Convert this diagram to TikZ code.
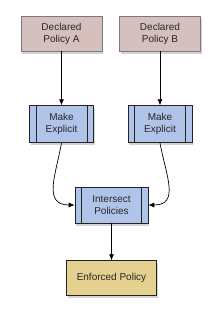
\documentclass[tikz,border=0pt]{standalone}
\usepackage{fontspec}
\setmainfont{Liberation Sans}
\usetikzlibrary{arrows.meta,positioning,shadows}
\definecolor{rose}{HTML}{D6C0BE}
\definecolor{steel}{HTML}{B0C4EA}
\definecolor{sand}{HTML}{E4D08F}
\definecolor{edge}{HTML}{222222}

\begin{document}
\begin{tikzpicture}[x=1pt,y=1pt,font=\fontsize{10}{12}\selectfont,text=black!85,
 shade/.style={drop shadow={shadow xshift=1pt,shadow yshift=-2.5pt,opacity=.35}},
 declared/.style={shade,draw=edge!60,line width=.6pt,fill=rose,minimum width=81pt,minimum height=35pt,align=center,inner sep=0pt},
 process/.style={shade,draw=edge,line width=.6pt,fill=steel,minimum width=64pt,minimum height=37pt,align=center,inner sep=0pt,
  path picture={\draw[edge,line width=.6pt] ([xshift=6.5pt]path picture bounding box.north west) -- ([xshift=6.5pt]path picture bounding box.south west)
   ([xshift=-6.5pt]path picture bounding box.north east) -- ([xshift=-6.5pt]path picture bounding box.south east);}},
 result/.style={shade,draw=edge,line width=.6pt,fill=sand,minimum width=90pt,minimum height=35pt,align=center,inner sep=0pt},
 flow/.style={-{Latex[length=6pt,width=5pt]},line width=.7pt}]
 \useasboundingbox (0,0) rectangle (221,-319);
 \node[declared] (polA) at (61.5,-33.5) {Declared\\Policy A};
 \node[declared] (polB) at (160,-33.5) {Declared\\Policy B};
 \node[process,below=54pt of polA] (mkA) {Make\\Explicit};
 \node[process,below=54pt of polB] (mkB) {Make\\Explicit};
 \node[process,minimum width=73pt,minimum height=36pt] (isect) at (111.5,-205) {Intersect\\Policies};
 \node[result,below=37pt of isect] (enf) {Enforced Policy};
 \draw[flow] (polA) -- (mkA);
 \draw[flow] (polB) -- (mkB);
 \draw[flow] (mkA.south) to[out=-100,in=180,looseness=1.3] (isect.west);
 \draw[flow] (mkB.south) to[out=-80,in=0,looseness=1.3] (isect.east);
 \draw[flow] (isect) -- (enf);
\end{tikzpicture}
\end{document}
